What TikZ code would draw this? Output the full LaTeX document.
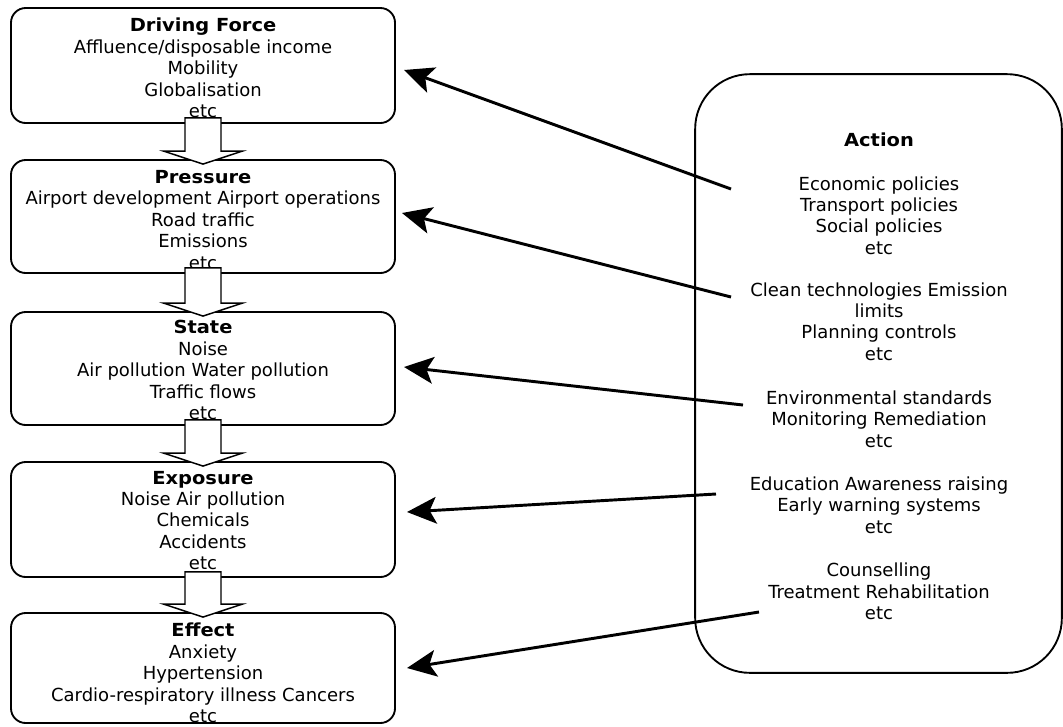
\documentclass[tikz,border=0pt]{standalone}
\usepackage{fontspec}
\setmainfont{DejaVu Sans}
\newfontfamily\hdfont{DejaVu Sans}[FakeStretch=1.08]
\newcommand\hd[1]{{\hdfont\bfseries #1}}
\usetikzlibrary{arrows.meta,calc}
\begin{document}
\begin{tikzpicture}[x=0.75pt,y=-0.75pt,
  box/.style={draw,line width=1.4pt,rounded corners=11pt,minimum width=288pt,inner sep=0pt},
  txt/.style={align=center,inner sep=0pt,font=\fontsize{13.5}{16.1}\selectfont},
  blk/.style={draw,fill=white,line width=1.1pt,line join=miter},
  act/.style={line width=2.2pt,-{Stealth[length=22pt,width=20pt,inset=5pt]}}]
\useasboundingbox (0,0) rectangle (1063,726);
% left boxes
\node[box,minimum height=86.25pt] (b1) at (203,65.5) {};
\node[box,minimum height=84.75pt] (b2) at (203,216.5) {};
\node[box,minimum height=84.75pt] (b3) at (203,368.5) {};
\node[box,minimum height=86.25pt] (b4) at (203,519.5) {};
\node[box,minimum height=82.5pt] (b5) at (203,668) {};
% texts
\node[txt] (t1) at (203,68) {\hd{Driving Force}\\Affluence/disposable income\\Mobility\\Globalisation\\etc};
\node[txt] (t2) at (203,220) {\hd{Pressure}\\Airport development Airport operations\\Road traffic\\Emissions\\etc};
\node[txt] (t3) at (203,370) {\hd{State}\\Noise\\Air pollution Water pollution\\Traffic flows\\etc};
\node[txt] (t4) at (203,520.5) {\hd{Exposure}\\Noise Air pollution\\Chemicals\\Accidents\\etc};
\node[txt] (t5) at (203,673) {\hd{Effect}\\Anxiety\\Hypertension\\Cardio-respiratory illness Cancers\\etc};
% block arrows
\newcommand\blockarr[2]{%
\draw[blk] let \p1=($(#1.south)+(0,-6)$), \p2=($(#2.north)+(0,5)$) in
 (\x1-13.5pt,\y1) -- (\x1+13.5pt,\y1) -- (\x1+13.5pt,\y2+9.75pt) -- (\x1+29.6pt,\y2+9.75pt)
 -- (\x2,\y2) -- (\x1-29.6pt,\y2+9.75pt) -- (\x1-13.5pt,\y2+9.75pt) -- cycle;}
\blockarr{b1}{b2}
\blockarr{b2}{b3}
\blockarr{b3}{b4}
\blockarr{b4}{b5}
% action box
\node[draw,line width=1.4pt,rounded corners=41pt,minimum width=275pt,minimum height=449pt,inner sep=0pt] (act) at (878.5,373.5) {};
\node[txt] (ah) at (879,140) {\hd{Action}};
\node[txt] (a1) at (879,215.5) {Economic policies\\Transport policies\\Social policies\\etc};
\node[txt] (a2) at (879,321.5) {Clean technologies Emission\\limits\\Planning controls\\etc};
\node[txt] (a3) at (879,419) {Environmental standards\\Monitoring Remediation\\etc};
\node[txt] (a4) at (879,505) {Education Awareness raising\\Early warning systems\\etc};
\node[txt] (a5) at (879,591.5) {Counselling\\Treatment Rehabilitation\\etc};
% connector ends
\coordinate (s1) at (731,189);
\coordinate (s2) at (731,297);
\coordinate (s3) at (743,405);
\coordinate (s4) at (716,494);
\coordinate (s5) at (759,612);
\coordinate (e1) at (404,70);
\coordinate (e2) at (402,213);
\coordinate (e3) at (404,367);
\coordinate (e4) at (407,512);
\coordinate (e5) at (407,668);
\draw[act] (s1) -- (e1);
\draw[act] (s2) -- (e2);
\draw[act] (s3) -- (e3);
\draw[act] (s4) -- (e4);
\draw[act] (s5) -- (e5);
\end{tikzpicture}
\end{document}
